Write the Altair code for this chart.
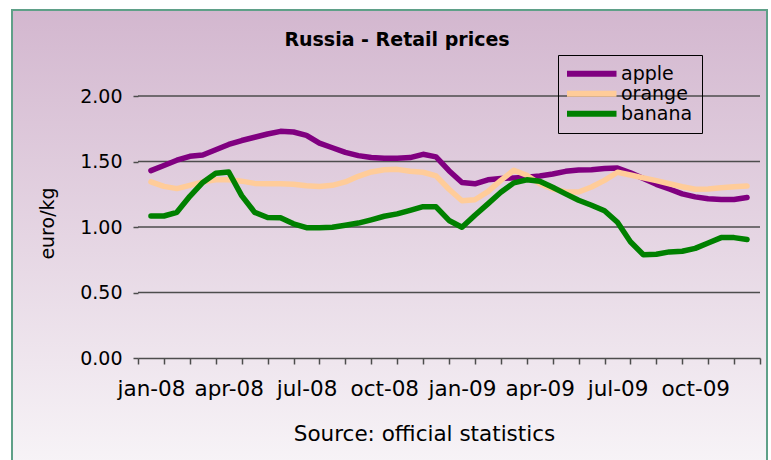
import altair as alt
import pandas as pd

# ---- data ----
chart_title = "Russia - Retail prices"
month_labels = ["jan-08", "feb-08", "mar-08", "apr-08", "may-08", "jun-08",
                "jul-08", "aug-08", "sep-08", "oct-08", "nov-08", "dec-08",
                "jan-09", "feb-09", "mar-09", "apr-09", "may-09", "jun-09",
                "jul-09", "aug-09", "sep-09", "oct-09", "nov-09", "dec-09"]

# observations twice a month, position in month units (0 = jan-08)
positions = [i / 2 for i in range(47)]

apple = [1.43, 1.47, 1.51, 1.54, 1.55, 1.59, 1.63, 1.66, 1.685, 1.71,
         1.73, 1.725, 1.70, 1.64, 1.605, 1.57, 1.545, 1.53, 1.525, 1.525,
         1.53, 1.555, 1.535, 1.43, 1.34, 1.33, 1.36, 1.37, 1.375, 1.38,
         1.39, 1.405, 1.425, 1.435, 1.437, 1.446, 1.45, 1.414, 1.37, 1.326,
         1.29, 1.253, 1.23, 1.215, 1.21, 1.21, 1.225]
orange = [1.345, 1.31, 1.293, 1.318, 1.345, 1.36, 1.36, 1.35, 1.333, 1.33,
          1.33, 1.326, 1.315, 1.31, 1.318, 1.344, 1.387, 1.42, 1.437, 1.44,
          1.425, 1.418, 1.39, 1.288, 1.20, 1.208, 1.27, 1.356, 1.433, 1.395,
          1.33, 1.29, 1.27, 1.267, 1.305, 1.356, 1.418, 1.397, 1.375, 1.354,
          1.33, 1.307, 1.288, 1.29, 1.30, 1.307, 1.313]
banana = [1.084, 1.084, 1.112, 1.234, 1.34, 1.41, 1.42, 1.24, 1.112, 1.072,
          1.07, 1.024, 0.995, 0.995, 0.998, 1.014, 1.03, 1.055, 1.082, 1.10,
          1.127, 1.155, 1.154, 1.05, 0.998, 1.09, 1.177, 1.265, 1.337, 1.36,
          1.35, 1.303, 1.253, 1.204, 1.166, 1.124, 1.036, 0.887, 0.788, 0.792,
          0.81, 0.815, 0.837, 0.878, 0.919, 0.919, 0.904]

series_names = ["apple", "orange", "banana"]
series_colors = ["#800080", "#ffcc99", "#008000"]
y_ticks = [0.0, 0.5, 1.0, 1.5, 2.0]
grid_values = [0.5, 1.0, 1.5, 2.0]
x_tick_bounds = [i - 0.5 for i in range(25)]
shown_labels = month_labels[::3]

rows = []
for name, vals in zip(series_names, [apple, orange, banana]):
    for p, v in zip(positions, vals):
        rows.append({"fruit": name, "pos": p, "price": v})
df = pd.DataFrame(rows)

FONT = "DejaVu Sans"
W, H = 622, 262

xscale = alt.Scale(domain=[-0.5, 23.5], nice=False, zero=False)
yscale = alt.Scale(domain=[0, 2], nice=False, zero=True)
cscale = alt.Scale(domain=series_names, range=series_colors)

label_list = "[" + ",".join("'%s'" % s for s in shown_labels) + "]"
xaxis = alt.Axis(
    values=x_tick_bounds,
    labelExpr="((datum.value + 0.5) % 3 == 0 && datum.value < 23) ? "
              + label_list + "[(datum.value + 0.5) / 3] : ''",
    labelOffset=13, labelFlush=False, labelOverlap=False,
    labelFont=FONT, labelFontSize=21.5, labelColor="black",
    labelBaseline="middle", labelPadding=25,
    tickSize=6, tickColor="#4d4d4d", tickWidth=1.5,
    domainColor="#4d4d4d", domainWidth=1.5,
    grid=False, zindex=1,
    title="Source: official statistics", titleFont=FONT, titleFontSize=21.5,
    titleFontWeight="normal", titleColor="black",
    titleX=286, titleY=76, titleBaseline="middle", titleAlign="center",
)
yaxis = alt.Axis(
    values=y_ticks, format=".2f", grid=False, domain=False,
    tickSize=5, tickColor="#4d4d4d", tickWidth=1.5,
    labelFont=FONT, labelFontSize=19, labelColor="black", labelPadding=11,
    zindex=1,
    title="euro/kg", titleFont=FONT, titleFontSize=19, titleFontWeight="normal",
    titleColor="black", titleX=-91, titleY=127, titleAngle=-90,
    titleAlign="center", titleBaseline="middle",
)
legend = alt.Legend(
    title=None, orient="none", legendX=420, legendY=-41,
    direction="vertical",
    symbolType="M0,0H10", symbolSize=100, symbolStrokeWidth=6,
    symbolOffset=-10,
    labelFont=FONT, labelFontSize=19, labelColor="black", labelOffset=45,
    padding=9, rowPadding=0, clipHeight=19.5, strokeColor="black",
)

bg_gradient = alt.Gradient(
    gradient="linear",
    stops=[alt.GradientStop(color="#d3b7cf", offset=0),
           alt.GradientStop(color="#f8f5f8", offset=1)],
    x1=0, x2=0, y1=0, y2=1,
)
background = alt.Chart(pd.DataFrame({"frame": [0]})).mark_rect(
    fill=bg_gradient, stroke="#5fa088", strokeWidth=2
).encode(x=alt.value(-126), x2=alt.value(629), y=alt.value(-86), y2=alt.value(380))

title_mark = alt.Chart(pd.DataFrame({"title": [chart_title]})).mark_text(
    font=FONT, fontSize=19, fontWeight="bold", color="black",
    align="center", baseline="middle",
).encode(text="title:N", x=alt.value(259), y=alt.value(-56))

grid = alt.Chart(pd.DataFrame({"v": grid_values})).mark_rule(
    color="#4d4d4d", strokeWidth=1.5
).encode(y=alt.Y("v:Q", scale=yscale, axis=yaxis))

line_layers = []
for name in series_names:
    line_layers.append(
        alt.Chart(df).transform_filter(alt.datum.fruit == name).mark_line(
            strokeWidth=5.5, strokeCap="round", strokeJoin="round"
        ).encode(
            x=alt.X("pos:Q", scale=xscale, axis=xaxis),
            y=alt.Y("price:Q", scale=yscale, axis=yaxis),
            color=alt.Color("fruit:N", scale=cscale, legend=legend),
        )
    )

chart = alt.layer(background, title_mark, grid, *line_layers).properties(
    width=W, height=H,
    padding={"left": 138, "top": 96, "right": 11, "bottom": 102},
    autosize="none",
).configure_view(strokeWidth=0).configure(font=FONT, background="white")

chart.save("out.html", embed_options={"renderer": "svg", "actions": False})
